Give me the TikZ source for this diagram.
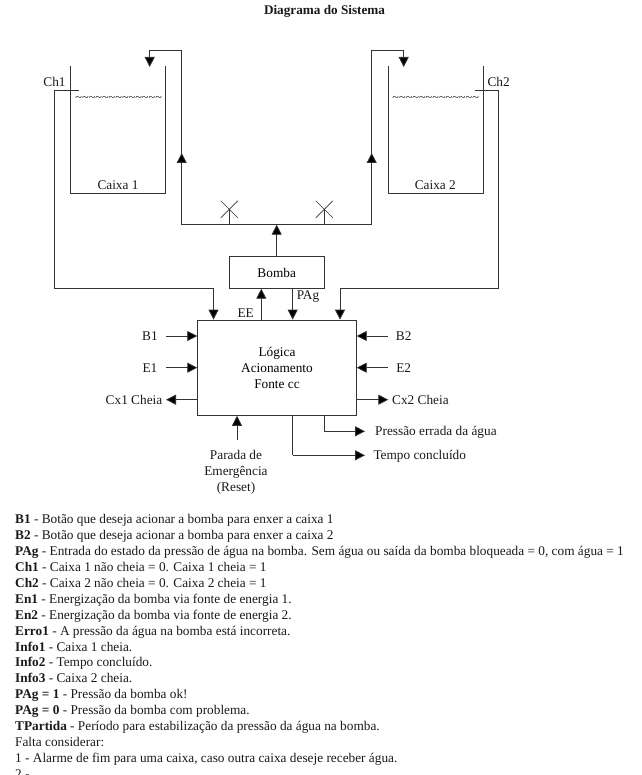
\documentclass[tikz,border=0pt]{standalone}
\usepackage{fontspec}
\setmainfont{Liberation Serif}
\usetikzlibrary{arrows.meta}
\definecolor{ink}{gray}{0.2}
\newcommand{\tl}{\textasciitilde}
\tikzset{
  pipe/.style={draw=ink,line width=0.8pt},
  flow/.style={pipe,-{Triangle[width=10pt,length=10pt,fill=black]}},
  boxn/.style={draw=ink,line width=0.8pt,inner sep=0pt,align=center,font=\fontsize{13.3}{16}\selectfont},
  lab/.style={inner sep=0pt,font=\fontsize{13.3}{16}\selectfont,text=black!90},
  vmark/.style={draw=ink,line width=0.6pt},
}
\begin{document}
\begin{tikzpicture}[x=1pt,y=-1pt]
\useasboundingbox (0,0) rectangle (641,775);
\node[lab,font=\fontsize{13.2}{14}\selectfont\bfseries] (title) at (324.5,11) {Diagrama do Sistema};

% tanks
\coordinate (t1a) at (70.7,66); \coordinate (t1b) at (70.7,193);
\coordinate (t1c) at (165.7,193); \coordinate (t1d) at (165.7,66);
\draw[pipe] (t1a) -- (t1b) -- (t1c) -- (t1d);
\coordinate (t2a) at (388,66); \coordinate (t2b) at (388,193);
\coordinate (t2c) at (483,193); \coordinate (t2d) at (483,66);
\draw[pipe] (t2a) -- (t2b) -- (t2c) -- (t2d);
\node[lab] (cx1) at (118,185.5) {Caixa 1};
\node[lab] (cx2) at (435.3,185.5) {Caixa 2};
\node[lab,font=\fontsize{12.3}{14}\selectfont] (w1) at (118.7,98.5) {\tl\tl\tl\tl\tl\tl\tl\tl\tl\tl\tl\tl\tl};
\node[lab,font=\fontsize{12.3}{14}\selectfont] (w2) at (435.7,98.5) {\tl\tl\tl\tl\tl\tl\tl\tl\tl\tl\tl\tl\tl};

% blocks
\node[boxn,minimum width=95.3pt,minimum height=31.6pt] (bomba) at (276.7,272.5) {Bomba};
\node[boxn,minimum width=158.6pt,minimum height=95.3pt] (logic) at (277,367.7) {Lógica\\Acionamento\\Fonte cc};

% labels
\node[lab] (ch1) at (54.5,82) {Ch1};
\node[lab] (ch2) at (498.7,82) {Ch2};
\node[lab] (pag) at (308,297) {PAg};
\node[lab] (ee) at (245.7,313) {EE};
\node[lab] (b1) at (150,336.5) {B1};
\node[lab] (e1) at (150,368.5) {E1};
\node[lab] (b2) at (403.7,336.5) {B2};
\node[lab] (e2) at (403.7,368.5) {E2};
\node[lab] (c1) at (134,400) {Cx1 Cheia};
\node[lab,anchor=west] (c2) at (392,400) {Cx2 Cheia};
\node[lab,anchor=west] (perr) at (375,432) {Pressão errada da água};
\node[lab,anchor=west] (tc) at (373.3,456) {Tempo concluído};
\node[lab,align=center] (par) at (236,472) {Parada de\\Emergência\\(Reset)};

% water pipes
\coordinate (j) at (276.7,224.7);
\coordinate (pl) at (181.7,224.7);
\coordinate (pr) at (371.7,224.7);
\coordinate (plt) at (181.7,50);
\coordinate (prt) at (371.7,50);
\coordinate (pl2) at (149.7,50);
\coordinate (pr2) at (403.7,50);
\coordinate (pl3) at (149.7,67);
\coordinate (pr3) at (403.7,67);
\coordinate (pla) at (181.7,153);
\coordinate (pra) at (371.7,153);
\draw[pipe] (pl) -- (pr);
\draw[pipe] (pl) -- (plt) -- (pl2);
\draw[pipe] (pr) -- (prt) -- (pr2);
\draw[flow] (pl2) -- (pl3);
\draw[flow] (pr2) -- (pr3);
\draw[flow] (pl) -- (pla);
\draw[flow] (pr) -- (pra);
\draw[flow] (bomba.north -| j) -- (j);

% valves
\coordinate (v1) at (229.3,209.3);
\coordinate (v2) at (324.3,209.3);
\foreach \v in {v1,v2}{
  \draw[vmark] ([shift={(-8.5,-8.5)}]\v) -- ([shift={(8.5,8.5)}]\v);
  \draw[vmark] ([shift={(-8.5,8.5)}]\v) -- ([shift={(8.5,-8.5)}]\v);
  \draw[pipe] (\v) -- (\v |- pl);
}

% sensors
\coordinate (s1a) at (54.5,90); \coordinate (s1b) at (78.7,90);
\coordinate (s1c) at (54.5,288.3); \coordinate (s1d) at (213.5,288.3);
\draw[pipe] (s1b) -- (s1a) -- (s1c) -- (s1d);
\draw[flow] (s1d) -- (s1d |- logic.north);
\coordinate (s2a) at (498.7,90); \coordinate (s2b) at (475,90);
\coordinate (s2c) at (498.7,288.3); \coordinate (s2d) at (340,288.3);
\draw[pipe] (s2b) -- (s2a) -- (s2c) -- (s2d);
\draw[flow] (s2d) -- (s2d |- logic.north);

% pump links
\coordinate (eex) at (261.3,300);
\coordinate (pagx) at (292.7,300);
\draw[flow] (eex |- logic.north) -- (eex |- bomba.south);
\draw[flow] (pagx |- bomba.south) -- (pagx |- logic.north);

% side signals
\coordinate (ib1) at (166,336); \coordinate (ie1) at (166,367.7); \coordinate (oc1) at (166,399.7);
\coordinate (ib2) at (387.7,336); \coordinate (ie2) at (387.7,367.7); \coordinate (oc2) at (388.3,399.7);
\draw[flow] (ib1) -- (ib1 -| logic.west);
\draw[flow] (ie1) -- (ie1 -| logic.west);
\draw[flow] (oc1 -| logic.west) -- (oc1);
\draw[flow] (ib2) -- (ib2 -| logic.east);
\draw[flow] (ie2) -- (ie2 -| logic.east);
\draw[flow] (oc2 -| logic.east) -- (oc2);

% bottom signals
\coordinate (rs) at (237,440);
\draw[flow] (rs) -- (rs |- logic.south);
\coordinate (pe1) at (324.3,431.3); \coordinate (pe2) at (365,431.3);
\coordinate (tc1) at (292.7,455.3); \coordinate (tc2) at (365,455.3);
\draw[pipe] (pe1 |- logic.south) -- (pe1);
\draw[flow] (pe1) -- (pe2);
\draw[pipe] (tc1 |- logic.south) -- (tc1);
\draw[flow] (tc1) -- (tc2);

% legend
\node[lab,anchor=north west,align=left,font=\fontsize{13.3}{15.95}\selectfont] (legend) at (15,514) {%
\textbf{B1} - Botão que deseja acionar a bomba para enxer a caixa 1\\
\textbf{B2} - Botão que deseja acionar a bomba para enxer a caixa 2\\
\textbf{PAg} - Entrada do estado da pressão de água na bomba. Sem água ou saída da bomba bloqueada = 0, com água = 1\\
\textbf{Ch1} - Caixa 1 não cheia = 0. Caixa 1 cheia = 1\\
\textbf{Ch2} - Caixa 2 não cheia = 0. Caixa 2 cheia = 1\\
\textbf{En1} - Energização da bomba via fonte de energia 1.\\
\textbf{En2} - Energização da bomba via fonte de energia 2.\\
\textbf{Erro1} - A pressão da água na bomba está incorreta.\\
\textbf{Info1} - Caixa 1 cheia.\\
\textbf{Info2} - Tempo concluído.\\
\textbf{Info3} - Caixa 2 cheia.\\
\textbf{PAg = 1} - Pressão da bomba ok!\\
\textbf{PAg = 0} - Pressão da bomba com problema.\\
\textbf{TPartida} - Período para estabilização da pressão da água na bomba.\\
Falta considerar:\\
1 - Alarme de fim para uma caixa, caso outra caixa deseje receber água.\\
2 -};
\end{tikzpicture}
\end{document}
